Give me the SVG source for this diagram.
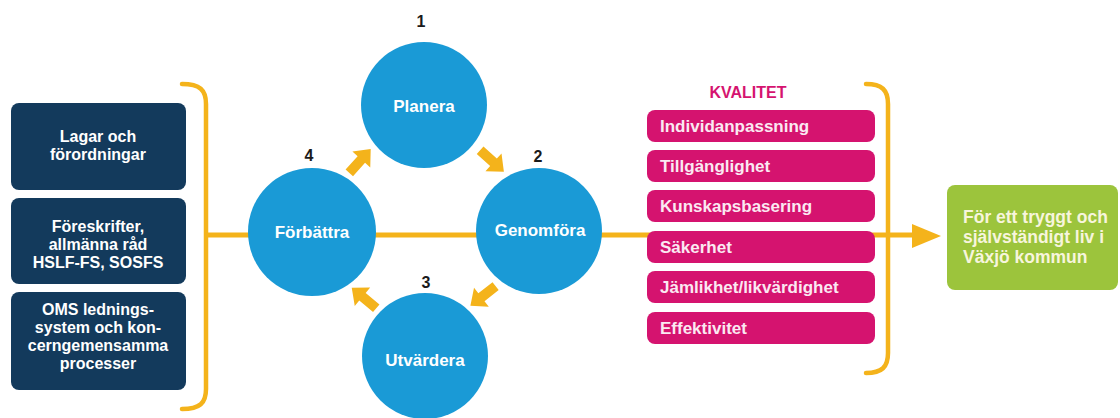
<svg xmlns="http://www.w3.org/2000/svg" width="1120" height="418" viewBox="0 0 1120 418">
<style>
.bg{fill:#ffffff}
.navy{fill:#133a5c}
.circ{fill:#1a9ad6}
.pink{fill:#d5136f}
.green{fill:#9cc43c}
.line{stroke:#f4b31b;stroke-width:5;fill:none}
.br{stroke:#f4b31b;stroke-width:4.5;fill:none;stroke-linecap:round}
.ar{fill:#f4b31b}
text{font-family:"Liberation Sans","Arial",sans-serif;font-weight:700}
.wt{fill:#ffffff;font-size:16px;text-anchor:middle}
.ct{fill:#ffffff;font-size:17px;text-anchor:middle}
.pt{fill:#fbe9f2;font-size:17px}
.gt{fill:#f7f5dc;font-size:17.5px}
.num{fill:#1a1a1a;font-size:16px;text-anchor:middle}
</style>
<rect class="bg" width="1120" height="418"/>
<g id="connectors">
  <path class="br" d="M182,84 C200,84 206,90 206,104 V389 C206,403 200,409 182,409"/>
  <path class="br" d="M866,84 C882,84 888,90 888,104 V353 C888,367 882,373 866,373"/>
  <path class="line" d="M206,235 H914"/>
  <polygon class="ar" points="912,224 941,236 912,248"/>
  <g id="arrow-4-1" transform="translate(360,161) rotate(-48)"><polygon class="ar" points="-16,-5 2,-5 2,-12 16,0 2,12 2,5 -16,5"/></g>
  <g id="arrow-1-2" transform="translate(492,161) rotate(42)"><polygon class="ar" points="-16,-5 2,-5 2,-12 16,0 2,12 2,5 -16,5"/></g>
  <g id="arrow-2-3" transform="translate(483,296) rotate(142)"><polygon class="ar" points="-16,-5 2,-5 2,-12 16,0 2,12 2,5 -16,5"/></g>
  <g id="arrow-3-4" transform="translate(364,298) rotate(-140)"><polygon class="ar" points="-16,-5 2,-5 2,-12 16,0 2,12 2,5 -16,5"/></g>
</g>
<g id="box-lagar">
  <rect class="navy" x="11" y="103" width="175" height="87" rx="8"/>
  <text class="wt" x="98" y="142">Lagar och</text>
  <text class="wt" x="98" y="160">förordningar</text>
</g>
<g id="box-foreskrifter">
  <rect class="navy" x="11" y="198" width="175" height="86" rx="8"/>
  <text class="wt" x="98" y="232">Föreskrifter,</text>
  <text class="wt" x="98" y="250">allmänna råd</text>
  <text class="wt" x="98" y="268">HSLF-FS, SOSFS</text>
</g>
<g id="box-oms">
  <rect class="navy" x="11" y="292" width="175" height="98" rx="8"/>
  <text class="wt" x="98" y="315">OMS lednings-</text>
  <text class="wt" x="98" y="333">system och kon-</text>
  <text class="wt" x="98" y="351">cerngemensamma</text>
  <text class="wt" x="98" y="369">processer</text>
</g>
<g id="node-planera">
  <circle class="circ" cx="424" cy="105" r="63"/>
  <text class="ct" x="424" y="112">Planera</text>
  <text class="num" x="421" y="27">1</text>
</g>
<g id="node-genomfora">
  <circle class="circ" cx="539" cy="231" r="63"/>
  <text class="ct" x="540" y="236">Genomföra</text>
  <text class="num" x="538" y="162">2</text>
</g>
<g id="node-utvardera">
  <circle class="circ" cx="425" cy="356" r="63"/>
  <text class="ct" x="425" y="366">Utvärdera</text>
  <text class="num" x="426" y="288">3</text>
</g>
<g id="node-forbattra">
  <circle class="circ" cx="312" cy="232" r="64"/>
  <text class="ct" x="312" y="238">Förbättra</text>
  <text class="num" x="309" y="161">4</text>
</g>
<g id="kvalitet">
  <text x="748" y="98" style="fill:#d5136f;font-size:16px;text-anchor:middle">KVALITET</text>
  <rect class="pink" x="647" y="110" width="228" height="32" rx="8"/>
  <text class="pt" x="660" y="132">Individanpassning</text>
  <rect class="pink" x="647" y="150" width="228" height="32" rx="8"/>
  <text class="pt" x="660" y="172">Tillgänglighet</text>
  <rect class="pink" x="647" y="190" width="228" height="32" rx="8"/>
  <text class="pt" x="660" y="212">Kunskapsbasering</text>
  <rect class="pink" x="647" y="231" width="228" height="32" rx="8"/>
  <text class="pt" x="660" y="253">Säkerhet</text>
  <rect class="pink" x="647" y="271" width="228" height="32" rx="8"/>
  <text class="pt" x="660" y="293">Jämlikhet/likvärdighet</text>
  <rect class="pink" x="647" y="312" width="228" height="32" rx="8"/>
  <text class="pt" x="660" y="334">Effektivitet</text>
</g>
<g id="box-result">
  <rect class="green" x="947" y="185" width="171" height="105" rx="8"/>
  <text class="gt" x="963" y="223">För ett tryggt och</text>
  <text class="gt" x="963" y="243">självständigt liv i</text>
  <text class="gt" x="963" y="263">Växjö kommun</text>
</g>
</svg>
